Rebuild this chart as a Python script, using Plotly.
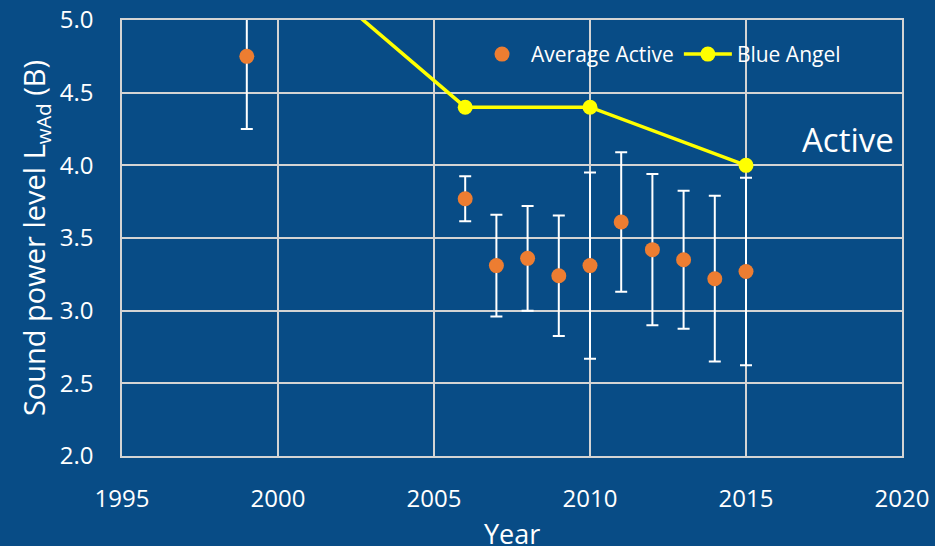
import plotly.graph_objects as go

# Average sound power level of active-mode devices per year, with spread
avg_years = [1999, 2006, 2007, 2008, 2009, 2010, 2011, 2012, 2013, 2014, 2015]
avg_values = [4.75, 3.77, 3.31, 3.36, 3.24, 3.31, 3.61, 3.42, 3.35, 3.22, 3.27]
avg_errors = [0.50, 0.155, 0.35, 0.36, 0.415, 0.64, 0.48, 0.52, 0.475, 0.57, 0.645]

# Blue Angel limit for active mode
ba_years = [2000, 2006, 2010, 2015]
ba_values = [5.5, 4.4, 4.4, 4.0]

x_ticks = [1995, 2000, 2005, 2010, 2015, 2020]
y_ticks = [2.0, 2.5, 3.0, 3.5, 4.0, 4.5, 5.0]

BG = "#084C86"
GRID = "#D4D4D4"
FONT = "Open Sans, Noto Sans, sans-serif"

fig = go.Figure()

fig.add_trace(go.Scatter(
    x=avg_years, y=avg_values, mode="markers", name="Average Active",
    marker=dict(color="#ED7D31", size=15, line=dict(width=0)),
    error_y=dict(type="data", array=avg_errors, visible=True,
                 color="white", thickness=2, width=6),
))

fig.add_trace(go.Scatter(
    x=ba_years, y=ba_values, mode="lines+markers", name="Blue Angel",
    line=dict(color="#FFFF00", width=3.5),
    marker=dict(color="#FFFF00", size=15),
    cliponaxis=True,
))

fig.add_annotation(
    x=2019.8, y=4.18, xref="x", yref="y", text="Active", showarrow=False,
    xanchor="right", yanchor="middle",
    font=dict(family=FONT, size=33, color="white"),
)

# x-axis title placed as a paper annotation so it can sit low in the margin
fig.add_annotation(
    x=0.5, y=-0.177, xref="paper", yref="paper", text="Year", showarrow=False,
    xanchor="center", yanchor="middle",
    font=dict(family=FONT, size=27, color="white"),
)

fig.update_layout(
    width=935, height=546,
    margin=dict(l=122, r=33, t=20, b=90),
    paper_bgcolor=BG, plot_bgcolor=BG,
    font=dict(family=FONT, color="white"),
    showlegend=True,
    legend=dict(
        x=0.45, y=0.968, xanchor="left", yanchor="top",
        orientation="h", bgcolor="rgba(0,0,0,0)",
        font=dict(family=FONT, size=21, color="white"),
        itemwidth=48,
    ),
    xaxis=dict(
        range=[1995, 2020], tickvals=x_ticks, automargin=False,
        tickfont=dict(family=FONT, size=24, color="white"),
        ticklabelstandoff=20,
        showgrid=True, gridcolor=GRID, gridwidth=1.5,
        showline=True, linecolor=GRID, linewidth=1.5, mirror=True,
        zeroline=False, ticks="", ticklen=0,
    ),
    yaxis=dict(
        range=[2.0, 5.0], tickvals=y_ticks, tickformat=".1f", automargin=False,
        tickfont=dict(family=FONT, size=24, color="white"),
        ticklabelstandoff=22,
        showgrid=True, gridcolor=GRID, gridwidth=1.5,
        showline=True, linecolor=GRID, linewidth=1.5, mirror=True,
        zeroline=False, ticks="", ticklen=0,
        title=dict(text="Sound power level L<sub>wAd</sub> (B)",
                   font=dict(family=FONT, size=29, color="white"),
                   standoff=6),
    ),
)

fig.write_html("out.html")
